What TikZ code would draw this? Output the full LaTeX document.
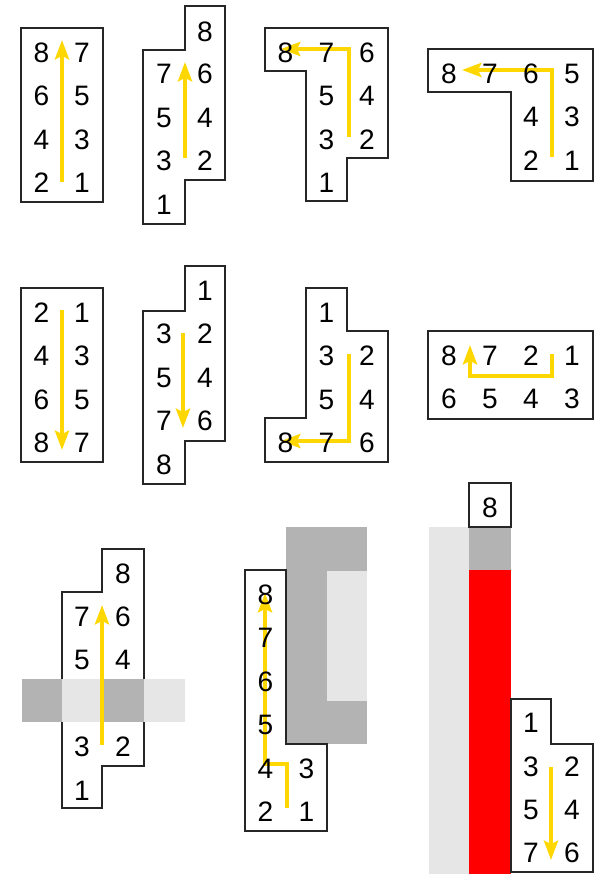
\documentclass[tikz,border=0pt]{standalone}
\usepackage{fontspec}
\setmainfont{Liberation Sans}
\usetikzlibrary{arrows.meta}
\definecolor{flowyellow}{HTML}{FFD700}
\definecolor{shadelight}{HTML}{E6E6E6}
\definecolor{shadedark}{HTML}{B3B3B3}
\definecolor{hotred}{HTML}{FF0000}
\definecolor{edge}{HTML}{262626}

\begin{document}
\begin{tikzpicture}[
    x=0.02cm, y=-0.02cm,
    num/.style={font=\fontsize{16}{19}\selectfont, text=black, inner sep=0pt},
    housing/.style={draw=edge, line width=1.3pt, line join=miter},
    flow/.style={draw=flowyellow, line width=2.7pt,
                 -{Stealth[length=11pt, width=8pt, inset=2pt]}},
    light/.style={fill=shadelight},
    dark/.style={fill=shadedark}
  ]
  \useasboundingbox (0,0) rectangle (599,874);

  % housings, top row
  \draw[housing] (21,28) rectangle (103,202);
  \draw[housing] (185,6) -- (225,6) -- (225,180) -- (185,180) -- (185,224)
    -- (143,224) -- (143,50) -- (185,50) -- cycle;
  \draw[housing] (265,28) -- (388,28) -- (388,158) -- (347,158) -- (347,201)
    -- (306,201) -- (306,71) -- (265,71) -- cycle;
  \draw[housing] (428,49) -- (593,49) -- (593,181) -- (511,181) -- (511,92)
    -- (428,92) -- cycle;

  % housings, middle row
  \draw[housing] (21,288) rectangle (103,462);
  \draw[housing] (185,266) -- (225,266) -- (225,441) -- (185,441) -- (185,484)
    -- (143,484) -- (143,311) -- (185,311) -- cycle;
  \draw[housing] (306,288) -- (347,288) -- (347,331) -- (388,331) -- (388,462)
    -- (265,462) -- (265,418) -- (306,418) -- cycle;
  \draw[housing] (428,331) rectangle (593,419);

  % bottom row: housing crossed by a band
  \draw[housing] (102,549) -- (144,549) -- (144,766) -- (102,766) -- (102,808)
    -- (62,808) -- (62,592) -- (102,592) -- cycle;
  \fill[dark] (22,679) rectangle (62,722);
  \fill[light] (62,679) rectangle (102,722);
  \fill[dark] (102,679) rectangle (144,722);
  \fill[light] (144,679) rectangle (185,722);

  % bottom row: housing beside a C shaped block
  \fill[dark] (286,527) rectangle (367,744);
  \fill[light] (327,571) rectangle (367,701);
  \draw[housing] (245,570) -- (286,570) -- (286,744) -- (327,744) -- (327,831)
    -- (245,831) -- cycle;

  % bottom row: housing beside a red strip
  \fill[light] (429,527) rectangle (469,874);
  \fill[dark] (469,527) rectangle (511,570);
  \fill[hotred] (469,570) rectangle (511,874);
  \draw[housing] (469,483) rectangle (511,527);
  \draw[housing] (511,699) -- (551,699) -- (551,744) -- (593,744) -- (593,872)
    -- (511,872) -- cycle;

  % arrow ends
  \coordinate (a-tail) at (62,182);  \coordinate (a-head) at (62,40);
  \coordinate (b-tail) at (185,158); \coordinate (b-head) at (185,62);
  \coordinate (c-tail) at (349,137); \coordinate (c-head) at (281,49);
  \coordinate (d-tail) at (552,157); \coordinate (d-head) at (462,70);
  \coordinate (e-tail) at (62,310);  \coordinate (e-head) at (62,450);
  \coordinate (f-tail) at (183,333); \coordinate (f-head) at (183,428);
  \coordinate (g-tail) at (349,354); \coordinate (g-head) at (281,441);
  \coordinate (h-tail) at (552,354); \coordinate (h-bend) at (470,376);
  \coordinate (h-head) at (470,345);
  \coordinate (i-tail) at (102,745); \coordinate (i-head) at (102,605);
  \coordinate (j-tail) at (287,808); \coordinate (j-bend) at (265,764);
  \coordinate (j-head) at (265,593);
  \coordinate (k-tail) at (551,767); \coordinate (k-head) at (551,860);

  \draw[flow] (a-tail) -- (a-head);
  \draw[flow] (b-tail) -- (b-head);
  \draw[flow] (c-tail) |- (c-head);
  \draw[flow] (d-tail) |- (d-head);
  \draw[flow] (e-tail) -- (e-head);
  \draw[flow] (f-tail) -- (f-head);
  \draw[flow] (g-tail) |- (g-head);
  \draw[flow] (h-tail) |- (h-bend) -- (h-head);
  \draw[flow] (i-tail) -- (i-head);
  \draw[flow] (j-tail) |- (j-bend) -- (j-head);
  \draw[flow] (k-tail) -- (k-head);

  % pin numbers
  \foreach \n/\x/\y in {8/41.5/53, 7/82/53, 6/41.5/96, 5/82/96,
                        4/41.5/140, 3/82/140, 2/41.5/183, 1/82/183}
    \node[num] (a\n) at (\x,\y) {\n};
  \foreach \n/\x/\y in {8/205/32, 7/164/74, 6/205/74, 5/164/118, 4/205/118,
                        3/164/161, 2/205/161, 1/164/205}
    \node[num] (b\n) at (\x,\y) {\n};
  \foreach \n/\x/\y in {8/285.5/53, 7/326.5/53, 6/367/53, 5/326.5/96, 4/367/96,
                        3/326.5/140, 2/367/140, 1/326.5/183}
    \node[num] (c\n) at (\x,\y) {\n};
  \foreach \n/\x/\y in {8/449/74, 7/490/74, 6/531/74, 5/572/74,
                        4/531/117, 3/572/117, 2/531/161, 1/572/161}
    \node[num] (d\n) at (\x,\y) {\n};
  \foreach \n/\x/\y in {2/41.5/313, 1/82/313, 4/41.5/356, 3/82/356,
                        6/41.5/400, 5/82/400, 8/41.5/443, 7/82/443}
    \node[num] (e\n) at (\x,\y) {\n};
  \foreach \n/\x/\y in {1/205/291, 3/164/334, 2/205/334, 5/164/378, 4/205/378,
                        7/164/421, 6/205/421, 8/164/465}
    \node[num] (f\n) at (\x,\y) {\n};
  \foreach \n/\x/\y in {1/326.5/313, 3/326.5/356, 2/367/356, 5/326.5/400,
                        4/367/400, 8/285.5/443, 7/326.5/443, 6/367/443}
    \node[num] (g\n) at (\x,\y) {\n};
  \foreach \n/\x/\y in {8/449/356, 7/490/356, 2/531/356, 1/572/356,
                        6/449/399, 5/490/399, 4/531/399, 3/572/399}
    \node[num] (h\n) at (\x,\y) {\n};
  \foreach \n/\x/\y in {8/123/574, 7/82/617, 6/123/617, 5/82/660, 4/123/660,
                        3/82/747, 2/123/747, 1/82/791}
    \node[num] (i\n) at (\x,\y) {\n};
  \foreach \n/\x/\y in {8/265.5/595, 7/265.5/638, 6/265.5/682, 5/265.5/725,
                        4/265.5/769, 3/306.5/769, 2/265.5/812, 1/306.5/812}
    \node[num] (j\n) at (\x,\y) {\n};
  \node[num] (k8) at (490,508) {8};
  \foreach \n/\x/\y in {1/531/723, 3/531/767, 2/572/767, 5/531/810, 4/572/810,
                        7/531/853, 6/572/853}
    \node[num] (k\n) at (\x,\y) {\n};
\end{tikzpicture}
\end{document}
